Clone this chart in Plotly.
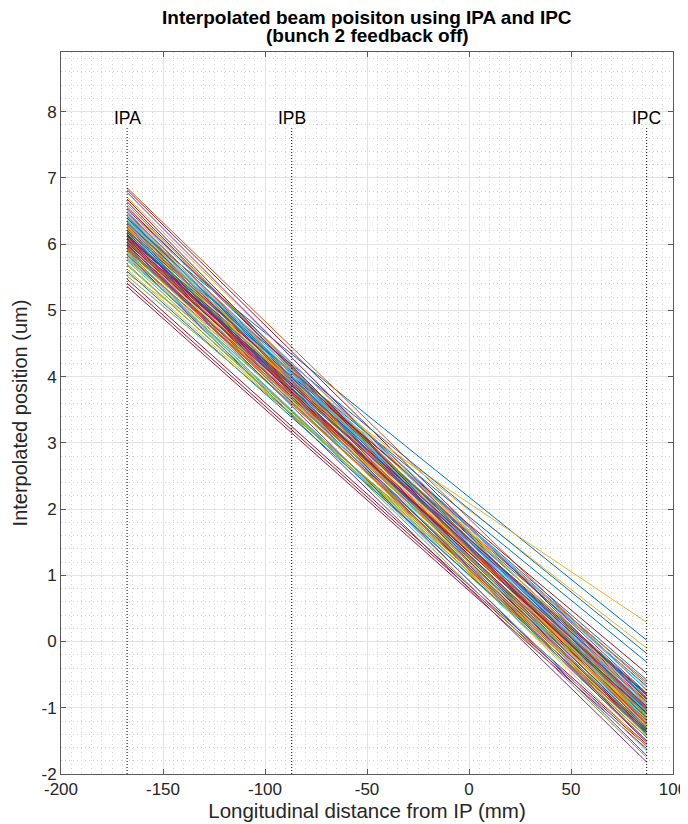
import plotly.graph_objects as go

# longitudinal positions of the BPMs (mm from IP)
ip_names = ['IPA', 'IPB', 'IPC']
ip_positions = [-167.6, -86.9, 87.1]

# tick labels (matlab uses a plain hyphen for negatives)
x_tick_values = [-200, -150, -100, -50, 0, 50, 100]
x_tick_labels = ['-200', '-150', '-100', '-50', '0', '50', '100']
y_tick_values = [-2, -1, 0, 1, 2, 3, 4, 5, 6, 7, 8]
y_tick_labels = ['-2', '-1', '0', '1', '2', '3', '4', '5', '6', '7', '8']

# interpolated position at IPA and at IPC for each pulse (um)
pos_at_ipa = [
    6.12, 5.98, 6.31, 6.05, 5.87, 6.44, 5.36,
    6.34, 6.02, 6.26, 5.91, 6.37, 6.09, 6.55,
    6.21, 6.85, 5.55, 6.14, 6.33, 5.81, 5.41,
    6.07, 6.48, 6.16, 5.99, 6.29, 5.77, 6.11,
    6.39, 6.03, 5.62, 6.24, 6.60, 5.93, 6.82,
    6.19, 6.42, 6.00, 5.84, 6.08, 6.27, 5.47,
    6.13, 5.96, 6.71, 6.35, 5.89, 6.04, 6.22,
    6.20, 6.46, 6.10, 6.32, 5.70, 6.17, 6.64,
    5.94, 6.25, 6.06, 6.78, 5.79, 6.36, 6.15,
    5.97, 6.28, 6.01, 6.52, 6.20, 5.86, 6.09,
    6.40, 5.92, 6.23, 6.05, 5.68, 6.34, 6.14,
    5.59, 6.03, 6.57, 6.18, 5.90, 6.30, 6.68,
    6.11, 5.83, 6.26, 6.00, 5.52, 6.43, 6.07,
    6.21, 5.95, 6.36, 6.12, 5.75, 6.49, 6.02,
]
pos_at_ipc = [
    -0.98, -1.21, -0.72, -1.07, -1.34, -0.85, -1.62,
    0.02, -0.61, -1.28, -1.02, -0.93, -1.41, -1.05,
    -0.79, -0.74, 0.29, -1.24, -1.10, -1.49, -1.58,
    -0.67, -1.19, -0.99, -1.36, -0.81, -1.08, -1.52,
    -1.01, -1.15, -1.31, -0.90, -1.15, -1.27, -0.88,
    -0.58, -1.22, -0.10, -1.82, -0.96, -1.04, -1.55,
    -0.84, -1.45, -0.95, -1.33, -1.75, -1.18, -1.39,
    -0.18, -1.00, -1.26, -1.14, -1.44, -0.92, -1.30,
    -1.03, -0.64, -1.58, -1.09, -1.19, -0.97, -1.35,
    -0.81, -1.11, -1.23, -0.78, -1.06, -1.65, -0.48,
    -1.16, -0.99, -1.42, -0.86, -1.29, -0.69, -1.20,
    -1.37, -1.01, -0.89, -1.50, -1.13, -0.94, -1.25,
    -0.31, -0.91, -1.17, -1.72, -1.10, -1.06, -0.80,
    -1.32, -1.40, -1.21, -0.98, -1.40, -0.73, -1.08,
]

# matlab default colour order
line_colors = ['#0072BD', '#D95319', '#EDB120', '#7E2F8E', '#77AC30', '#4DBEEE', '#A2142F']

FONT = 'Liberation Sans, Arial, Helvetica, sans-serif'


def generate_figure():
    fig = go.Figure()

    x_ends = [ip_positions[0], ip_positions[2]]
    for i in range(len(pos_at_ipa)):
        fig.add_trace(go.Scatter(
            x=x_ends, y=[pos_at_ipa[i], pos_at_ipc[i]],
            mode='lines',
            line=dict(color=line_colors[i % len(line_colors)], width=1),
            showlegend=False, hoverinfo='skip'
        ))

    # dotted markers for the three BPMs
    for name, xpos in zip(ip_names, ip_positions):
        fig.add_trace(go.Scatter(
            x=[xpos, xpos], y=[-2, 7.75],
            mode='lines',
            line=dict(color='black', width=1, dash='1px,2px'),
            showlegend=False, hoverinfo='skip'
        ))
        fig.add_annotation(x=xpos, y=7.9, text=name, showarrow=False,
                           xanchor='center', yanchor='middle',
                           font=dict(family=FONT, size=17.5, color='black'))

    # two-line bold title
    fig.add_annotation(xref='paper', yref='paper', x=0.5, y=1, yanchor='middle', yshift=35,
                       text='<b>Interpolated beam poisiton using IPA and IPC</b>', showarrow=False,
                       borderpad=0, font=dict(family=FONT, size=19, color='black'))
    fig.add_annotation(xref='paper', yref='paper', x=0.5, y=1, yanchor='middle', yshift=17,
                       text='<b>(bunch 2 feedback off)</b>', showarrow=False,
                       borderpad=0, font=dict(family=FONT, size=19, color='black'))

    axis_style = dict(
        showline=True, linecolor='#5a5a5a', linewidth=1, mirror='ticks',
        ticks='inside', ticklen=5, tickcolor='#5a5a5a',
        showgrid=True, gridcolor='#e3e3e3', gridwidth=1,
        zeroline=False, ticklabeloverflow='allow',
        tickfont=dict(family=FONT, size=17, color='#262626'),
    )

    fig.update_xaxes(
        range=[-200, 100], tickvals=x_tick_values, ticktext=x_tick_labels,
        title=dict(text='Longitudinal distance from IP (mm)', standoff=4,
                   font=dict(family=FONT, size=20.5, color='#262626')),
        minor=dict(dtick=5, showgrid=True, gridcolor='#d6d6d6', griddash='1px,3px', gridwidth=1),
        **axis_style
    )
    fig.update_yaxes(
        range=[-2, 8.9], tickvals=y_tick_values, ticktext=y_tick_labels,
        title=dict(text='Interpolated position (um)', standoff=8,
                   font=dict(family=FONT, size=20, color='#262626')),
        minor=dict(dtick=0.2, showgrid=True, gridcolor='#d6d6d6', griddash='1px,3px', gridwidth=1),
        **axis_style
    )

    # page body has an 8px margin, so the figure is sized to fit the window
    fig.update_layout(
        width=680, height=816,
        margin=dict(l=53, r=15, t=44, b=50, autoexpand=False),
        plot_bgcolor='white', paper_bgcolor='white',
    )
    return fig


def main():
    fig = generate_figure()
    fig.write_html("out.html")


if __name__ == '__main__':
    main()
